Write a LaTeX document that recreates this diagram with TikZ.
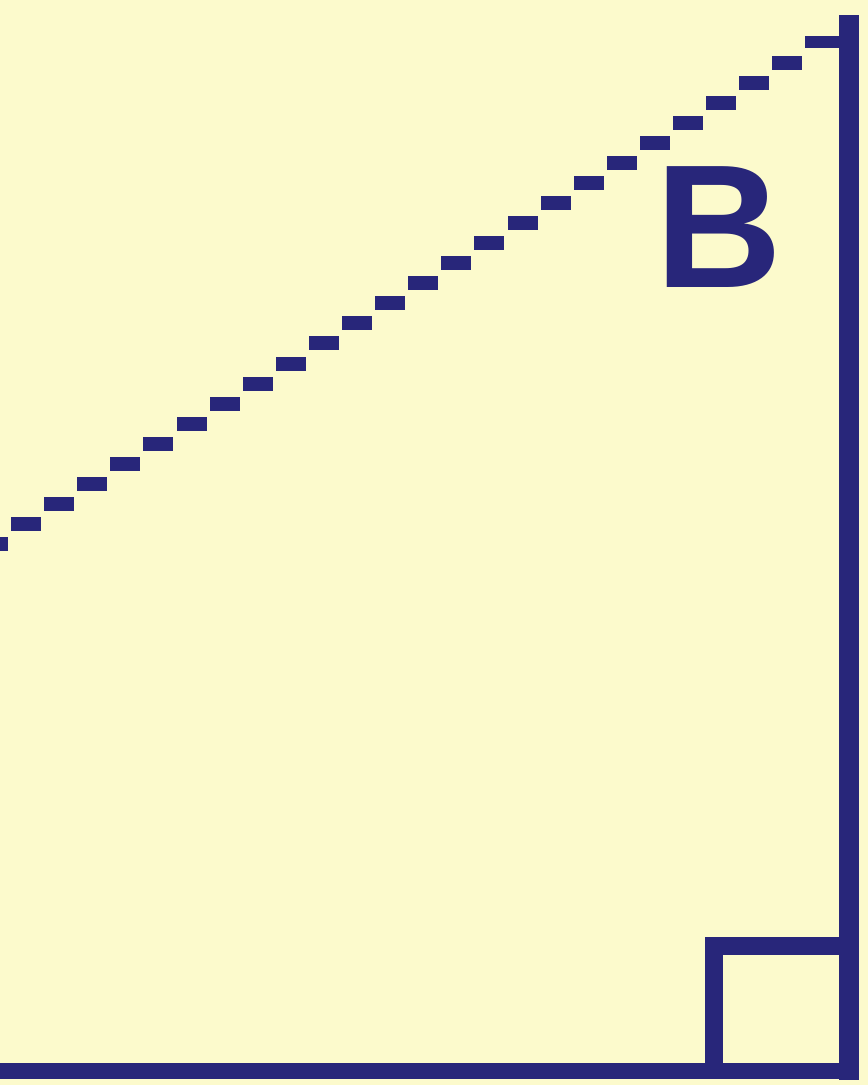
\documentclass[tikz,border=0pt]{standalone}
\usepackage{fontspec}
\setmainfont{Liberation Sans}
\usetikzlibrary{positioning}
\definecolor{paper}{RGB}{252,250,204}
\definecolor{ink}{RGB}{40,38,122}

\tikzset{
  leg/.style={draw=ink, line width=0.4cm},
  base/.style={draw=ink, line width=0.32cm},
  rightmark/.style={draw=ink, line width=0.36cm},
  hypbar/.style={fill=ink},
}

\begin{document}
\begin{tikzpicture}[x=0.02cm,y=-0.02cm]
  % paper
  \fill[paper] (0,0) rectangle (868,1085);
  \useasboundingbox (0,0) rectangle (868,1085);
  \clip (0,0) rectangle (868,1085);
  % vertical side and base
  \draw[leg] (849,15) -- (849,1080);
  \draw[base] (0,1071) -- (859,1071);
  % right angle mark
  \draw[rightmark] (714,1071) -- (714,946) -- (849,946);
  % tick at the top
  \draw[draw=ink, line width=0.26cm] (805,42) -- (845,42);
  % hypotenuse, drawn as stepped bars
  \foreach \i in {-1,...,23}
    \fill[hypbar] ({26+33.1*\i-15},{524-0.606*33.1*\i-7}) rectangle ++(30,14);
  % label
  \node[text=ink, inner sep=0pt, font=\fontsize{100}{100}\selectfont\bfseries] (labelB) at (719,227) {B};
\end{tikzpicture}
\end{document}
